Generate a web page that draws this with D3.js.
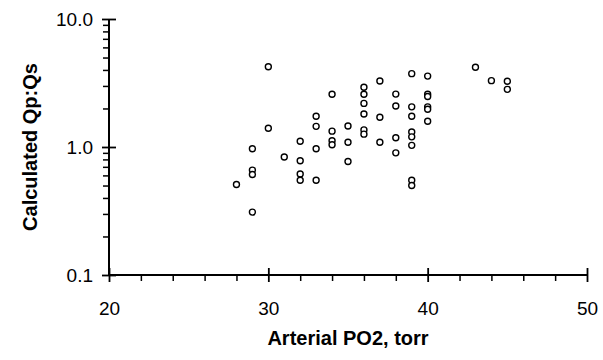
<!DOCTYPE html>
<html>
<head>
<meta charset="utf-8">
<script src="https://cdn.jsdelivr.net/npm/d3@7"></script>
<style>
  body { margin: 0; background: #fff; }
  svg { display: block; font-family: "Liberation Sans", Arial, sans-serif; }
  .tick text { font-size: 19px; fill: #000; }
  .axis-label { font-size: 20px; font-weight: bold; fill: #000; }
</style>
</head>
<body>
<svg width="603" height="360"></svg>
<script>
// arterial PO2 (torr) for each patient
const po2 = [
  28,
  29, 29, 29, 29,
  30, 30,
  31,
  32, 32, 32, 32,
  33, 33, 33, 33,
  34, 34, 34, 34,
  35, 35, 35,
  36, 36, 36, 36, 36, 36,
  37, 37, 37,
  38, 38, 38, 38,
  39, 39, 39, 39, 39, 39, 39, 39,
  40, 40, 40, 40, 40, 40,
  43,
  44,
  45, 45
];
// calculated Qp:Qs, same order
const qpqs = [
  0.51,
  0.97, 0.66, 0.61, 0.31,
  4.24, 1.40,
  0.835,
  1.11, 0.78, 0.615, 0.55,
  1.74, 1.45, 0.97, 0.55,
  2.58, 1.33, 1.12, 1.04,
  1.46, 1.09, 0.77,
  2.93, 2.58, 2.19, 1.81, 1.36, 1.26,
  3.28, 1.71, 1.09,
  2.59, 2.09, 1.18, 0.90,
  3.74, 2.06, 1.74, 1.31, 1.20, 1.03, 0.55, 0.50,
  3.58, 2.58, 2.48, 2.06, 1.97, 1.59,
  4.2,
  3.30,
  3.26, 2.82
];
const xMajor = [20, 30, 40, 50];
const xMinor = [22, 24, 26, 28, 32, 34, 36, 38, 42, 44, 46, 48];
const yMajor = [0.1, 1, 10];

const xAxisLabel = 'Arterial PO2, torr';
const yAxisLabel = 'Calculated Qp:Qs';

const svg = d3.select('svg');
const width = +svg.attr('width');
const height = +svg.attr('height');
const margin = {top: 19, right: 16, bottom: 85, left: 109};
const innerWidth = width - margin.left - margin.right;
const innerHeight = height - margin.top - margin.bottom;

const data = po2.map((d, i) => ({po2: d, qpqs: qpqs[i]}));

const xScale = d3.scaleLinear().domain([20, 50]).range([0, innerWidth]);
const yScale = d3.scaleLog().domain([0.1, 10]).range([innerHeight, 0]);

const g = svg.append('g')
  .attr('transform', `translate(${margin.left},${margin.top})`);

// minor ticks first, pointing outward, no labels
const yMinor = yScale.ticks().filter(v => !yMajor.some(m => Math.abs(m - v) < 1e-9));
const yMinorG = g.append('g')
  .call(d3.axisLeft(yScale).tickValues(yMinor).tickSize(6));
yMinorG.select('.domain').remove();
yMinorG.selectAll('text').remove();
yMinorG.selectAll('line').attr('stroke-width', 1.5);

const xMinorG = g.append('g')
  .attr('transform', `translate(0,${innerHeight})`)
  .call(d3.axisBottom(xScale).tickValues(xMinor).tickSize(6));
xMinorG.select('.domain').remove();
xMinorG.selectAll('text').remove();
xMinorG.selectAll('line').attr('stroke-width', 1.5);

// major ticks cross the axis line
const yAxisG = g.append('g')
  .call(d3.axisLeft(yScale).tickValues(yMajor).tickSize(7).tickPadding(9)
    .tickFormat(d3.format('.1f')));
yAxisG.select('.domain').attr('d', `M0,0V${innerHeight}`).attr('stroke-width', 2);
yAxisG.selectAll('.tick line').attr('x2', 7).attr('x1', -7).attr('stroke-width', 1.8);

const xAxisG = g.append('g')
  .attr('transform', `translate(0,${innerHeight})`)
  .call(d3.axisBottom(xScale).tickValues(xMajor).tickSize(7).tickPadding(20));
xAxisG.select('.domain').attr('d', `M0,0H${innerWidth}`).attr('stroke-width', 2);
xAxisG.selectAll('.tick line').attr('y1', -7).attr('y2', 7).attr('stroke-width', 1.8);
xAxisG.selectAll('.tick text').attr('dy', '0.71em');

g.append('text')
  .attr('class', 'axis-label')
  .attr('x', innerWidth / 2)
  .attr('y', innerHeight + 70)
  .attr('text-anchor', 'middle')
  .text(xAxisLabel);

g.append('text')
  .attr('class', 'axis-label')
  .attr('transform', 'rotate(-90)')
  .attr('x', -128)
  .attr('y', -72)
  .attr('text-anchor', 'middle')
  .text(yAxisLabel);

g.selectAll('circle').data(data)
  .enter().append('circle')
    .attr('cx', d => xScale(d.po2))
    .attr('cy', d => yScale(d.qpqs))
    .attr('r', 3)
    .attr('fill', 'white')
    .attr('stroke', 'black')
    .attr('stroke-width', 1.4);
</script>
</body>
</html>
